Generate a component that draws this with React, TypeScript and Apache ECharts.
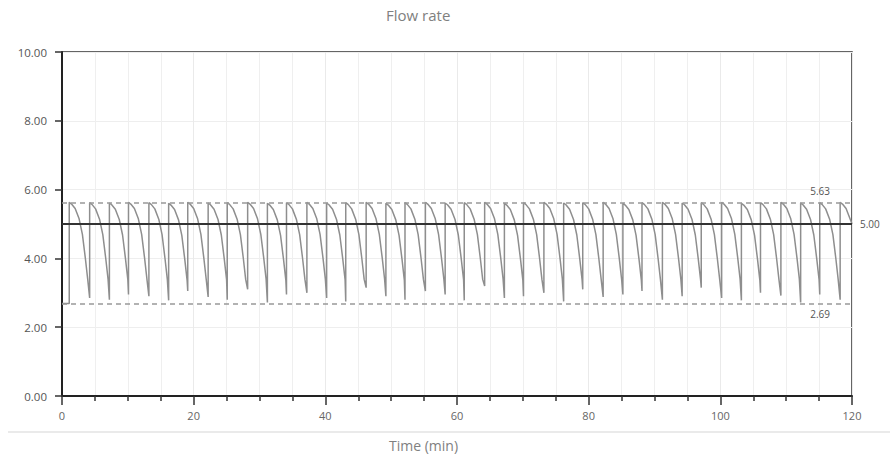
import { useEffect, useRef } from "react";
import * as echarts from "echarts";

// Times (min) at which each pumping cycle rises to its peak
const cycleStarts = [
  1.1, 4.2, 7.2, 10.1, 13.2, 16.2, 19.1, 22.2, 25.1, 28.2,
  31.2, 34.1, 37.2, 40.2, 43.1, 46.2, 49.2, 52.1, 55.2, 58.2,
  61.1, 64.2, 67.2, 70.1, 73.2, 76.2, 79.1, 82.2, 85.2, 88.1,
  91.2, 94.2, 97.1, 100.2, 103.2, 106.1, 109.2, 112.2, 115.1, 118.2,
];
// Peak value of each cycle
const cyclePeaks = [
  5.63, 5.62, 5.61, 5.63, 5.62, 5.6, 5.63, 5.61, 5.62, 5.63,
  5.6, 5.62, 5.63, 5.61, 5.62, 5.63, 5.6, 5.62, 5.63, 5.61,
  5.62, 5.63, 5.6, 5.62, 5.63, 5.61, 5.62, 5.63, 5.6, 5.62,
  5.63, 5.61, 5.62, 5.63, 5.6, 5.62, 5.63, 5.61, 5.62, 5.63,
];
// Minimum value reached just before each rise
const cycleMins = [
  2.69, 2.85, 2.8, 2.95, 2.9, 2.78, 3.05, 2.88, 2.8, 3.1,
  2.72, 2.95, 3.0, 2.85, 2.75, 3.15, 2.9, 2.8, 3.05, 2.95,
  2.78, 3.2, 2.85, 2.9, 3.0, 2.75, 3.1, 2.88, 2.95, 3.05,
  2.8, 2.9, 3.15, 2.85, 2.78, 3.0, 2.92, 2.72, 2.95, 2.8,
];
// Typical decay after the peak (minutes after rise, value)
const decayOffsets = [0.35, 0.9, 1.5, 2.0, 2.45, 2.8];
const decayValues = [5.58, 5.45, 5.15, 4.7, 4.0, 3.4];
const endValue = 5.0;

const targetValue = 5.0;
const maxValue = 5.63;
const minValue = 2.69;

const xMax = 120;

function buildFlow(): [number, number][] {
  const pts: [number, number][] = [[0, cycleMins[0]]];
  for (let i = 0; i < cycleStarts.length; i++) {
    const t0 = cycleStarts[i];
    pts.push([t0, cycleMins[i]]);
    pts.push([t0, cyclePeaks[i]]);
    for (let j = 0; j < decayOffsets.length; j++) {
      const t = t0 + decayOffsets[j];
      if (t < xMax) pts.push([+t.toFixed(2), decayValues[j] - (5.63 - cyclePeaks[i])]);
    }
  }
  pts.push([xMax, endValue]);
  return pts;
}

export default function App() {
  const ref = useRef<HTMLDivElement>(null);
  useEffect(() => {
    if (!ref.current) return;
    const chart = echarts.init(ref.current, null, { renderer: "svg" });
    const font = "'Open Sans', 'Noto Sans', sans-serif";
    chart.setOption({
      animation: false,
      backgroundColor: "#ffffff",
      textStyle: { fontFamily: font },
      grid: {
        left: 62,
        right: 38,
        top: 52,
        bottom: 62,
        show: true,
        borderColor: "#333",
        borderWidth: 1.5,
      },
      graphic: [
        {
          type: "text",
          left: 386,
          top: 7,
          style: { text: "Flow rate", fill: "#808080", font: `15px ${font}` },
        },
        {
          type: "text",
          left: 389,
          top: 438,
          style: { text: "Time (min)", fill: "#808080", font: `14px ${font}` },
        },
        {
          type: "line",
          shape: { x1: 8, y1: 432, x2: 890, y2: 432 },
          style: { stroke: "#e3e3e3", lineWidth: 1.5 },
        },
      ],
      xAxis: {
        type: "value",
        min: 0,
        max: xMax,
        interval: 20,
        axisLine: { show: true, lineStyle: { color: "#222", width: 2 } },
        axisTick: { show: true, length: 9, lineStyle: { color: "#333", width: 1.5 } },
        minorTick: { show: true, splitNumber: 4, length: 5, lineStyle: { color: "#333", width: 1.5 } },
        axisLabel: { color: "#666", fontSize: 11, margin: 14, fontFamily: font },
        splitLine: { show: true, lineStyle: { color: "#eaeaea", width: 1 } },
        minorSplitLine: { show: true, lineStyle: { color: "#efefef", width: 1 } },
      },
      yAxis: {
        type: "value",
        min: 0,
        max: 10,
        interval: 2,
        axisLine: { show: true, lineStyle: { color: "#222", width: 2 } },
        axisTick: { show: true, length: 7, lineStyle: { color: "#333", width: 1.5 } },
        axisLabel: {
          color: "#555",
          fontSize: 11.5,
          margin: 15,
          fontFamily: font,
          formatter: (v: number) => v.toFixed(2),
        },
        splitLine: { show: true, lineStyle: { color: "#eeeeee", width: 1 } },
      },
      series: [
        {
          type: "line",
          data: buildFlow(),
          symbol: "none",
          lineStyle: { color: "#8e8e8e", width: 1.5 },
          z: 3,
          markLine: {
            silent: true,
            symbol: "none",
            animation: false,
            data: [
              {
                yAxis: targetValue,
                lineStyle: { color: "#333", width: 2, type: "solid" },
                label: {
                  show: true,
                  position: "end",
                  distance: 8,
                  formatter: targetValue.toFixed(2),
                  color: "#555",
                  fontSize: 10,
                  fontFamily: font,
                },
              },
              {
                yAxis: maxValue,
                lineStyle: { color: "#999", width: 1.5, type: [5, 4] },
                label: {
                  show: true,
                  position: "insideEndTop",
                  distance: [22, 6],
                  formatter: maxValue.toFixed(2),
                  color: "#555",
                  fontSize: 10,
                  fontFamily: font,
                },
              },
              {
                yAxis: minValue,
                lineStyle: { color: "#999", width: 1.5, type: [5, 4] },
                label: {
                  show: true,
                  position: "insideEndBottom",
                  distance: [22, 6],
                  formatter: minValue.toFixed(2),
                  color: "#555",
                  fontSize: 10,
                  fontFamily: font,
                },
              },
            ],
          },
        },
      ],
    });
    return () => chart.dispose();
  }, []);
  return (
    <div
      ref={ref}
      style={{ position: "fixed", left: 0, top: 0, width: 890, height: 458, background: "#fff" }}
    />
  );
}
